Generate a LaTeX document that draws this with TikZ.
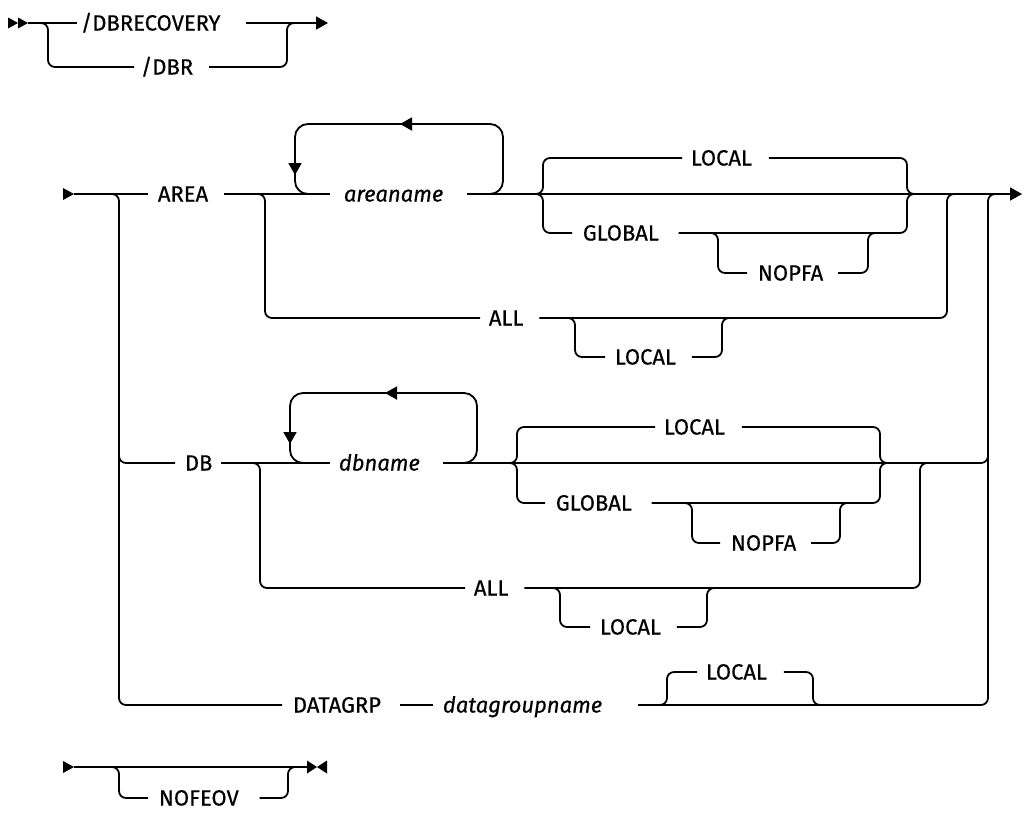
\documentclass[tikz,border=0pt]{standalone}
\usepackage{fontspec}
\setmainfont{Fira Sans}[FakeBold=0.5]
\usetikzlibrary{arrows.meta}
\begin{document}
\begin{tikzpicture}[x=1pt,y=-1pt,line width=1.8pt,
  rr/.style={rounded corners=7pt},
  rl/.style={rounded corners=13pt},
  tip/.style={-{Triangle[length=12pt,width=13pt]}},
  kw/.style={anchor=west,inner sep=0pt,text height=15pt,text depth=0pt,font=\fontsize{22}{26}\selectfont},
  var/.style={kw,font=\fontsize{22}{26}\selectfont\itshape}]
\useasboundingbox (0,0) rectangle (1024,812);

% ---------- top row ----------
\fill (8,17.5) -- (18,23) -- (8,28.5) -- cycle;
\fill (18,17.5) -- (28,23) -- (18,28.5) -- cycle;
\coordinate (t0) at (28,23);
\coordinate (t1) at (328,23);
\node[kw] (dbrec) at (80,23) {/DBRECOVERY};
\node[kw] (dbr) at (140,67) {/DBR};
\draw (t0) -- ([xshift=-3pt]dbrec.west);
\draw[tip] ([xshift=25pt]dbrec.east) -- (t1);
\draw[rr] (36,23) -- (48,23) -- (48,67) -- ([xshift=-6pt]dbr.west);
\draw[rr] ([xshift=15pt]dbr.east) -- (287,67) -- (287,23) -- (299,23);

% ---------- nodes ----------
\node[kw] (area) at (157,194) {AREA};
\node[var] (aname) at (343,194) {areaname};
\node[kw] (all1) at (488,318) {ALL};
\node[kw] (loc2) at (614,357) {LOCAL};
\node[kw] (loc1) at (690,158) {LOCAL};
\node[kw] (glob1) at (582,233) {GLOBAL};
\node[kw] (nopfa1) at (757,273) {NOPFA};
\node[kw] (db) at (184,463) {DB};
\node[var] (dbn) at (338,463) {dbname};
\node[kw] (all2) at (473,588) {ALL};
\node[kw] (loc4) at (599,627) {LOCAL};
\node[kw] (loc3) at (663,427) {LOCAL};
\node[kw] (glob2) at (555,503) {GLOBAL};
\node[kw] (nopfa2) at (730,543) {NOPFA};
\node[kw] (dg) at (292,705) {DATAGRP};
\node[var] (dgn) at (442,705) {datagroupname};
\node[kw] (loc5) at (705,672) {LOCAL};
\node[kw] (nofeov) at (158,798) {NOFEOV};

% ---------- second row: AREA ----------
\fill (63,188) -- (74,194) -- (63,200) -- cycle;
\coordinate (s2) at (74,194);
\coordinate (e2) at (1022,194);
\draw (s2) -- ([xshift=-9pt]area.west);
\draw[rr] (100,194) -- (119,194) -- (119,705) -- ([xshift=-10pt]dg.west);
\draw ([xshift=15pt]area.east) -- ([xshift=-13pt]aname.west);
\draw[rl,tip] (488,194) -- (503,194) -- (503,124) -- (400,124);
\draw[rl,tip] (404,124) -- (295,124) -- (295,175);
\draw[rl] (295,172) -- (295,194) -- (312,194);
\draw[tip] ([xshift=23pt]aname.east) -- (e2);
% ALL branch
\draw[rr] (253,194) -- (265,194) -- (265,318) -- ([xshift=-8pt]all1.west);
\draw[rr] ([xshift=15pt]all1.east) -- (947,318) -- (947,194) -- (959,194);
\draw[rr] (563,318) -- (575,318) -- (575,357) -- ([xshift=-9pt]loc2.west);
\draw[rr] ([xshift=15pt]loc2.east) -- (722,357) -- (722,318) -- (734,318);
% LOCAL / GLOBAL
\draw[rr] (531,194) -- (543,194) -- (543,158) -- ([xshift=-8pt]loc1.west);
\draw[rr] ([xshift=16pt]loc1.east) -- (907,158) -- (907,194) -- (919,194);
\draw[rr] (531,194) -- (543,194) -- (543,233) -- ([xshift=-10pt]glob1.west);
\draw[rr] ([xshift=19pt]glob1.east) -- (907,233) -- (907,194) -- (919,194);
\draw[rr] (706,233) -- (718,233) -- (718,273) -- ([xshift=-10pt]nopfa1.west);
\draw[rr] ([xshift=14pt]nopfa1.east) -- (868,273) -- (868,233) -- (880,233);
% outer right
\draw[rr] (970,705) -- (988,705) -- (988,194) -- (1000,194);
\draw[rr] (970,463) -- (988,463) -- (988,440);

% ---------- DB ----------
\draw[rr] (119,440) -- (119,463) -- ([xshift=-9pt]db.west);
\draw ([xshift=8pt]db.east) -- ([xshift=-8pt]dbn.west);
\draw[rl,tip] (462,463) -- (477,463) -- (477,393) -- (385,393);
\draw[rl,tip] (389,393) -- (290,393) -- (290,444);
\draw[rl] (290,441) -- (290,463) -- (306,463);
\draw ([xshift=22pt]dbn.east) -- (975,463);
\draw[rr] (248,463) -- (260,463) -- (260,588) -- ([xshift=-8pt]all2.west);
\draw[rr] ([xshift=15pt]all2.east) -- (920,588) -- (920,463) -- (932,463);
\draw[rr] (548,588) -- (560,588) -- (560,627) -- ([xshift=-9pt]loc4.west);
\draw[rr] ([xshift=15pt]loc4.east) -- (707,627) -- (707,588) -- (719,588);
\draw[rr] (505,463) -- (517,463) -- (517,427) -- ([xshift=-8pt]loc3.west);
\draw[rr] ([xshift=16pt]loc3.east) -- (880,427) -- (880,463) -- (892,463);
\draw[rr] (505,463) -- (517,463) -- (517,503) -- ([xshift=-10pt]glob2.west);
\draw[rr] ([xshift=19pt]glob2.east) -- (880,503) -- (880,463) -- (892,463);
\draw[rr] (680,503) -- (692,503) -- (692,543) -- ([xshift=-10pt]nopfa2.west);
\draw[rr] ([xshift=14pt]nopfa2.east) -- (840,543) -- (840,503) -- (852,503);

% ---------- DATAGRP ----------
\draw ([xshift=18pt]dg.east) -- ([xshift=-9pt]dgn.west);
\draw ([xshift=35pt]dgn.east) -- (975,705);
\draw[rr] (655,705) -- (667,705) -- (667,672) -- ([xshift=-8pt]loc5.west);
\draw[rr] ([xshift=16pt]loc5.east) -- (813,672) -- (813,705) -- (825,705);

% ---------- bottom row ----------
\fill (63,761) -- (74,767) -- (63,773) -- cycle;
\coordinate (s3) at (74,767);
\coordinate (e3) at (307,767);
\draw (s3) -- (e3);
\fill (307,760.5) -- (317,767) -- (307,773.5) -- cycle;
\fill (327,760.5) -- (317,767) -- (327,773.5) -- cycle;
\draw[rr] (107,767) -- (119,767) -- (119,798) -- ([xshift=-10pt]nofeov.west);
\draw[rr] ([xshift=20pt]nofeov.east) -- (288,798) -- (288,767) -- (300,767);
\end{tikzpicture}
\end{document}
